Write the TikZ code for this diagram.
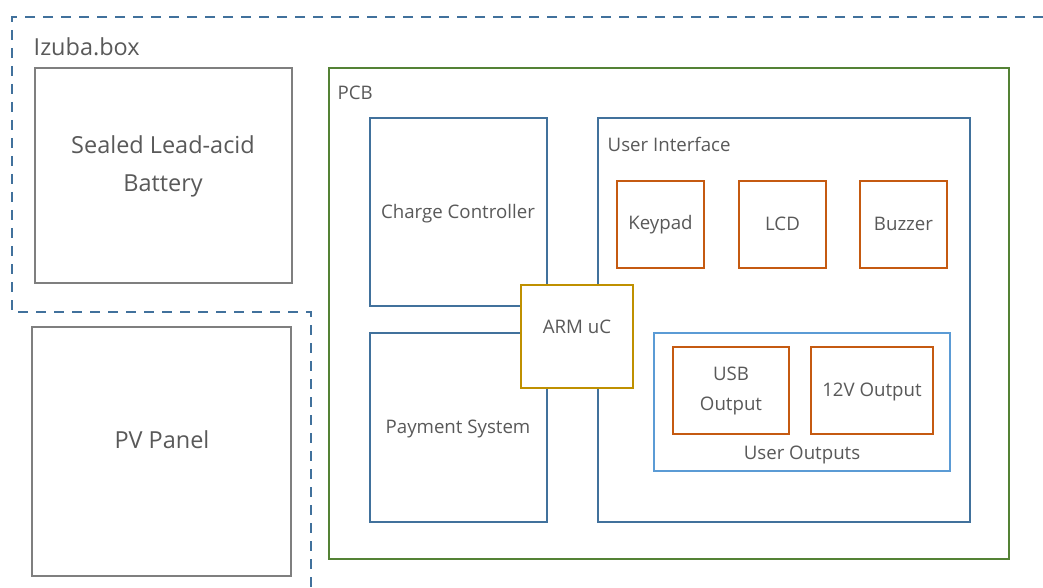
\documentclass[tikz,border=0pt]{standalone}
\usepackage{fontspec}
\setmainfont{Open Sans}
\usetikzlibrary{fit}
\definecolor{txt}{HTML}{595959}
\definecolor{dashblue}{HTML}{41719C}
\definecolor{boxgray}{HTML}{7F7F7F}
\definecolor{pcbgreen}{HTML}{548235}
\definecolor{modblue}{HTML}{41719C}
\definecolor{armgold}{HTML}{BF9000}
\definecolor{partbrown}{HTML}{C55A11}
\definecolor{outblue}{HTML}{5B9BD5}
\tikzset{
  frame/.style={draw=#1, line width=1.6pt, inner sep=0pt, fill=white},
  big/.style={text=txt, font=\fontsize{17.6}{28.5}\selectfont, align=center},
  small/.style={text=txt, font=\fontsize{14}{23}\selectfont, align=center},
}
\begin{document}
\begin{tikzpicture}[x=0.75pt, y=-0.75pt]
\useasboundingbox (0,0) rectangle (1043,588);

% enclosure outline
\draw[dashblue, line width=2.1pt, dash pattern=on 7.5pt off 6pt]
  (1043,17) -- (12,17) -- (12,312) -- (311,312) -- (311,588);
\node[big, anchor=west] (izuba) at (29,47) {Izuba.box};

% external parts
\node[frame=boxgray, fit={(35,68) (292,283)}] (battery) {};
\node[big] at (163,166) {Sealed Lead-acid\\Battery};
\node[frame=boxgray, fit={(32,327) (291,576)}] (pv) {};
\node[big] at (162,440) {PV Panel};

% PCB
\node[frame=pcbgreen, fit={(329,68) (1009,559)}] (pcb) {};
\node[small, anchor=west] at (333,93) {PCB};

\node[frame=modblue, fit={(370,118) (547,306)}] (charge) {};
\node[small] at (458,214) {Charge Controller};
\node[frame=modblue, fit={(370,333) (547,522)}] (payment) {};
\node[small] at (458,429) {Payment System};

\node[frame=modblue, fit={(598,118) (970,522)}] (ui) {};
\node[small, anchor=west] at (603,144) {User Interface};

\node[frame=partbrown, fit={(617,181) (704,268)}] (keypad) {};
\node[small] at (660.5,225) {Keypad};
\node[frame=partbrown, fit={(739,181) (826,268)}] (lcd) {};
\node[small] at (782.5,224) {LCD};
\node[frame=partbrown, fit={(860,181) (947,268)}] (buzzer) {};
\node[small] at (903.5,224) {Buzzer};

\node[frame=outblue, fit={(654,333) (950,471)}] (outputs) {};
\node[small] at (802,455) {User Outputs};
\node[frame=partbrown, fit={(673,347) (789,434)}] (usb) {};
\node[small] at (731,391) {USB\\Output};
\node[frame=partbrown, fit={(811,347) (933,434)}] (dc12) {};
\node[small] at (872,392) {12V Output};

% microcontroller on top
\node[frame=armgold, fit={(521,285) (633,388)}] (arm) {};
\node[small] at (577,327) {ARM uC};
\end{tikzpicture}
\end{document}
